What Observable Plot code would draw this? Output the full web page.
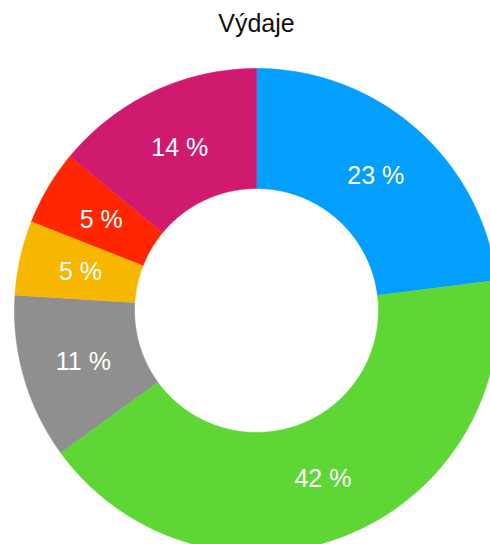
<!DOCTYPE html>
<html><head><meta charset="utf-8">
<script src="https://cdn.jsdelivr.net/npm/d3@7"></script>
<script src="https://cdn.jsdelivr.net/npm/@observablehq/plot@0.6"></script>
<style>body{margin:0;background:#fff}</style>
</head><body><div id="chart"></div>
<script>
const title = "Výdaje";
const categories = ["Položka 1", "Položka 2", "Položka 3", "Položka 4", "Položka 5", "Položka 6"];
const values = [23, 42, 11, 5, 5, 14];
const labels = ["23 %", "42 %", "11 %", "5 %", "5 %", "14 %"];
const colors = ["#029ffe", "#5dd636", "#8f8f8f", "#f7b600", "#ff2600", "#d01a70"];

const W = 490, H = 544;
const R = 1, r0 = 0.504, rLabel = 0.745;
const cx = 256 / 242, cy = 310 / 242; // center offset in radius units

const total = d3.sum(values);
let acc = 0;
const slices = values.map((v, i) => {
  const a0 = acc / total * 2 * Math.PI;
  acc += v;
  const a1 = acc / total * 2 * Math.PI;
  return {name: categories[i], label: labels[i], a0, a1};
});

const pts = [];
for (const s of slices) {
  const n = Math.max(8, Math.ceil((s.a1 - s.a0) * 60));
  for (let k = 0; k <= n; k++) {
    const a = s.a0 + (s.a1 - s.a0) * k / n;
    pts.push({name: s.name, x: R * Math.sin(a), y: R * Math.cos(a)});
  }
  for (let k = n; k >= 0; k--) {
    const a = s.a0 + (s.a1 - s.a0) * k / n;
    pts.push({name: s.name, x: r0 * Math.sin(a), y: r0 * Math.cos(a)});
  }
}
const labelPts = slices.map(s => {
  const a = (s.a0 + s.a1) / 2;
  return {label: s.label, x: rLabel * Math.sin(a), y: rLabel * Math.cos(a)};
});

const chart = Plot.plot({
  width: W, height: H,
  margin: 0,
  style: {fontFamily: "'Liberation Sans', Arial, sans-serif", background: "#fff"},
  x: {domain: [-cx, (W / 242) - cx], axis: null},
  y: {domain: [cy - H / 242, cy], axis: null},
  color: {domain: categories, range: colors},
  marks: [
    Plot.line(pts, {x: "x", y: "y", z: "name", fill: "name", stroke: "name", strokeWidth: 0.6}),
    Plot.text(labelPts, {x: "x", y: "y", text: "label", fill: "white", fontSize: 25, dy: 1}),
    Plot.text([title], {frameAnchor: "top", dx: 11, dy: 14, text: d => d, fontSize: 25, fill: "#111"})
  ]
});
document.getElementById("chart").appendChild(chart);
</script>
</body></html>
